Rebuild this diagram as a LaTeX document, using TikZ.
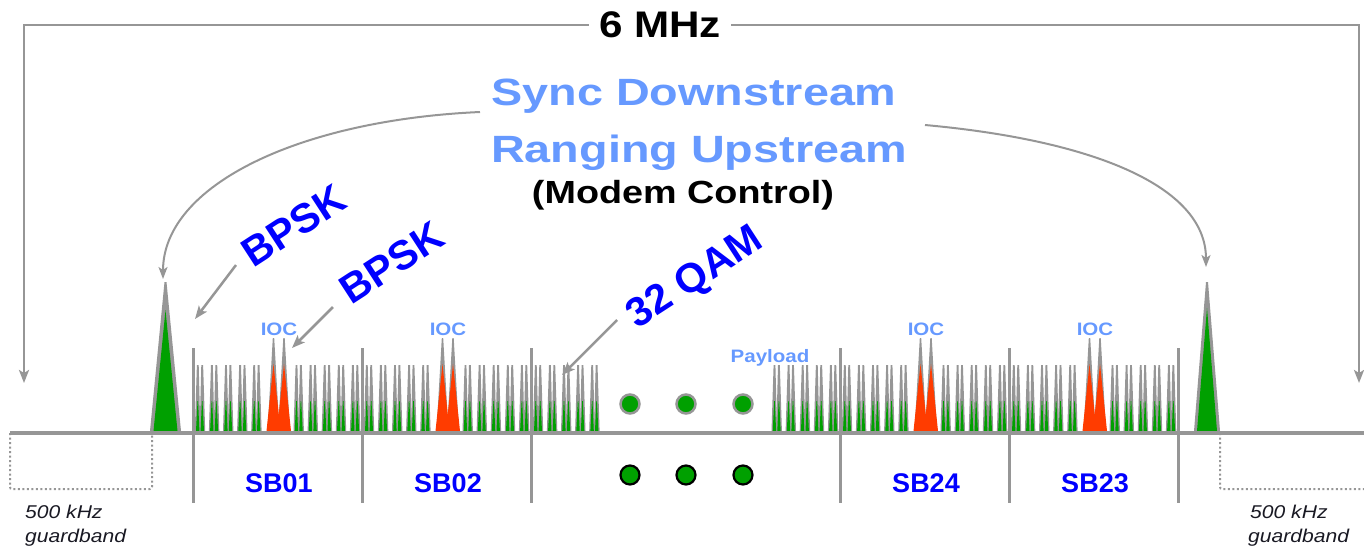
\documentclass[tikz,border=0pt]{standalone}
\usepackage{fontspec}
\setmainfont{Liberation Sans}
\newfontfamily\wa[FakeStretch=1.14]{Liberation Sans}
\newfontfamily\wb[FakeStretch=1.23]{Liberation Sans}
\newfontfamily\wc[FakeStretch=1.18]{Liberation Sans}
\usetikzlibrary{arrows.meta}

\definecolor{lineGray}{RGB}{150,150,150}
\definecolor{carrierGreen}{RGB}{0,160,0}
\definecolor{iocRed}{RGB}{255,60,0}
\definecolor{lightBlue}{RGB}{102,153,255}
\definecolor{deepBlue}{RGB}{0,0,255}
\definecolor{noteInk}{RGB}{25,25,35}

% comb of paired sub-carriers: #1 = band start, #2 = slot numbers
\newcommand\drawcomb[2]{%
  \foreach \k in {#2}{%
    \pgfmathsetmacro\cc{#1+7+14.1*\k}%
    \fill[lineGray] (\cc-5.2,431) -- (\cc-3.1,365) -- (\cc-1.3,365) -- (\cc+0.4,431) -- cycle;
    \fill[lineGray] (\cc-0.4,431) -- (\cc+1.3,365) -- (\cc+3.1,365) -- (\cc+5.2,431) -- cycle;
  }%
  \foreach \k in {#2}{%
    \pgfmathsetmacro\cc{#1+7+14.1*\k}%
    \fill[carrierGreen] (\cc-4.0,431) -- (\cc-2.5,401) -- (\cc-1.9,401) -- (\cc-0.6,431) -- cycle;
    \fill[carrierGreen] (\cc+0.6,431) -- (\cc+1.9,401) -- (\cc+2.5,401) -- (\cc+4.0,431) -- cycle;
  }%
}
% the two in-band overhead carriers of a sub-band starting at #1
\newcommand\drawioc[1]{%
  \fill[lineGray] (#1+74.5,431) -- (#1+79.8,338) -- (#1+81.2,338) -- (#1+86.5,431) -- cycle;
  \fill[lineGray] (#1+85,431) -- (#1+90.3,338) -- (#1+91.7,338) -- (#1+97,431) -- cycle;
  \fill[iocRed] (#1+73.5,431) -- (#1+80.5,364) -- (#1+87.5,431) -- cycle;
  \fill[iocRed] (#1+84,431) -- (#1+91,364) -- (#1+98,431) -- cycle;
}

\begin{document}
\begin{tikzpicture}[x=1pt,y=-1pt,
  arr/.style={draw=lineGray, line width=2.5pt, -{Stealth[length=13pt,width=10pt,inset=3pt]}},
  thinarr/.style={draw=lineGray, line width=2pt, -{Stealth[length=12pt,width=9pt,inset=3pt]}},
  sep/.style={draw=lineGray, line width=3pt},
  guard/.style={draw=lineGray, line width=2pt, dash pattern=on 2pt off 2.5pt, rounded corners=2pt},
  ioc/.style={text=lightBlue, font=\wa\bfseries\fontsize{18}{20}\selectfont, inner sep=0pt, anchor=base},
  sb/.style={text=deepBlue, font=\bfseries\fontsize{27}{30}\selectfont, inner sep=0pt, anchor=base},
  mod/.style={text=deepBlue, font=\bfseries\fontsize{41}{44}\selectfont, inner sep=0pt, rotate=33},
  note/.style={text=noteInk, font=\wa\itshape\fontsize{18.5}{20}\selectfont, inner sep=0pt, anchor=base west},
  updot/.style={circle, fill=carrierGreen, draw=lineGray, line width=2.5pt, minimum size=19pt, inner sep=0pt},
  lowdot/.style={circle, fill=carrierGreen, draw=black, line width=2.2pt, minimum size=19pt, inner sep=0pt}]
\useasboundingbox (0,0) rectangle (1364,547);

% ---- headline texts
\node[font=\wa\bfseries\fontsize{37}{40}\selectfont, inner xsep=10pt, inner ysep=0pt] (mhz) at (660,25) {6 MHz};
\node[text=lightBlue, font=\wb\bfseries\fontsize{38}{40}\selectfont, inner sep=0pt, anchor=base] (sync) at (694,105) {Sync Downstream};
\node[text=lightBlue, font=\wb\bfseries\fontsize{38}{40}\selectfont, inner sep=0pt, anchor=base] (rang) at (699,162) {Ranging Upstream};
\node[font=\wc\bfseries\fontsize{32}{34}\selectfont, inner sep=0pt, anchor=base] (ctrl) at (683,203) {(Modem Control)};

% ---- 6 MHz span bracket
\coordinate (lbot) at (24,383);
\coordinate (rbot) at (1359,383);
\draw[arr] (mhz.west) -| (lbot);
\draw[arr] (mhz.east) -| (rbot);

% ---- sub-carrier combs
\drawcomb{193}{0,1,2,3,4,7,8,9,10,11}
\drawcomb{362}{0,1,2,3,4,7,8,9,10,11}
\drawcomb{531}{0,1,2,3,4}
\drawcomb{671}{7,8,9,10,11}
\drawcomb{840}{0,1,2,3,4,7,8,9,10,11}
\drawcomb{1009}{0,1,2,3,4,7,8,9,10,11}
\drawioc{193}
\drawioc{362}
\drawioc{840}
\drawioc{1009}

% ---- control carriers at the channel edges
\fill[lineGray] (150,431) -- (164.5,282) -- (166.5,282) -- (181,431) -- cycle;
\fill[carrierGreen] (153.5,431) -- (165.5,310) -- (177.5,431) -- cycle;
\fill[lineGray] (1194,431) -- (1206,282) -- (1208,282) -- (1220,431) -- cycle;
\fill[carrierGreen] (1197,431) -- (1207,308) -- (1217,431) -- cycle;

% ---- guardbands
\draw[guard] (10,433) -- (10,489) -- (152,489) -- (152,433);
\draw[guard] (1220,433) -- (1220,489) -- (1366,489);

% ---- frequency axis and sub-band separators
\draw[draw=lineGray, line width=4pt] (10,433) -- (1364,433);
\foreach \x in {193,362,531,840,1009,1178}{
  \draw[sep] (\x,348) -- (\x,503);
}

% ---- continuation dots
\node[updot] (u1) at (630,404) {};
\node[updot] (u2) at (686,404) {};
\node[updot] (u3) at (743,404) {};
\node[lowdot] (d1) at (630,475) {};
\node[lowdot] (d2) at (686,475) {};
\node[lowdot] (d3) at (743,475) {};

% ---- labels on the combs
\node[ioc] (ioc1) at (279,335) {IOC};
\node[ioc] (ioc2) at (448,335) {IOC};
\node[ioc] (ioc3) at (926,335) {IOC};
\node[ioc] (ioc4) at (1095,335) {IOC};
\node[ioc] (pay) at (770,362) {Payload};

\node[sb] (sb01) at (279,492) {SB01};
\node[sb] (sb02) at (448,492) {SB02};
\node[sb] (sb24) at (926,492) {SB24};
\node[sb] (sb23) at (1095,492) {SB23};

\node[note] (gl1) at (25,518) {500 kHz};
\node[note] (gl2) at (25,542) {guardband};
\node[note] (gr1) at (1250,518) {500 kHz};
\node[note] (gr2) at (1248,542) {guardband};

% ---- modulation callouts
\node[mod] (bpsk1) at (294,226) {BPSK};
\node[mod] (bpsk2) at (392,263) {BPSK};
\node[mod] (qam) at (696,279) {32 QAM};

\coordinate (b1s) at (236,265);
\coordinate (b1t) at (195,319);
\coordinate (b2s) at (333,307);
\coordinate (b2t) at (292,348);
\coordinate (qs) at (617,320);
\coordinate (qt) at (562,375);
\draw[arr] (b1s) -- (b1t);
\draw[arr] (b2s) -- (b2t);
\draw[arr] (qs) -- (qt);

% ---- control carriers called out from the headline
\coordinate (cls) at (480,112);
\coordinate (clt) at (163,279);
\coordinate (crs) at (925,125);
\coordinate (crt) at (1206,267);
\draw[thinarr] (cls) .. controls (300,120) and (163,185) .. (clt);
\draw[thinarr] (crs) .. controls (1090,140) and (1206,185) .. (crt);
\end{tikzpicture}
\end{document}
